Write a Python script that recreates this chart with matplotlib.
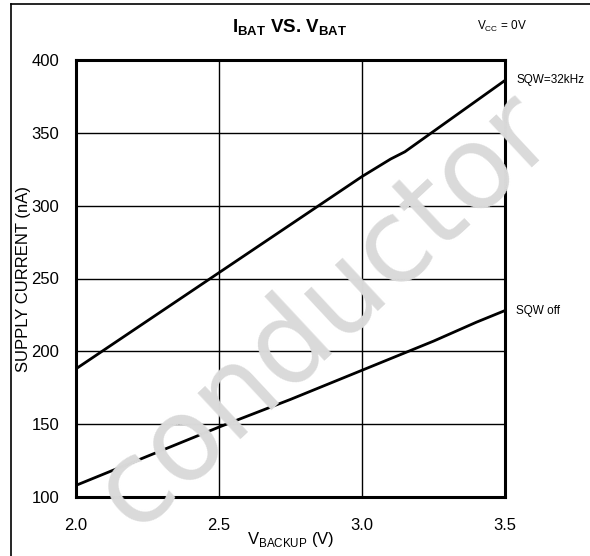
import matplotlib
matplotlib.use("Agg")
import matplotlib.pyplot as plt
from matplotlib.lines import Line2D

plt.rcParams['font.family'] = ['Liberation Sans Narrow', 'Liberation Sans', 'DejaVu Sans']

# data
v_backup = [2.0, 2.25, 2.5, 2.75, 3.0, 3.1, 3.15, 3.25, 3.4, 3.5]
sqw_32k = [188, 221, 254, 287, 320, 332, 337, 351, 372, 386]
sqw_off = [108, 128, 148, 167, 187, 195, 199, 207, 220, 228]

x_ticks = [2.0, 2.5, 3.0, 3.5]
y_ticks = [100, 150, 200, 250, 300, 350, 400]

fig = plt.figure(figsize=(5.9, 5.56), dpi=100)
fig.patch.set_facecolor('white')

# frame lines on the left and top edge of the page
fig.add_artist(Line2D([11/590, 11/590], [0, 1 - 4/556], color='black', lw=1.2))
fig.add_artist(Line2D([11/590, 1], [1 - 4/556, 1 - 4/556], color='black', lw=1.2))

# watermark
fig.text(0.55, 0.44, 'conductor', rotation=43, fontsize=83, color='#dadada',
         ha='center', va='center', family='DejaVu Sans', zorder=0)

ax = fig.add_axes([76/590, 1 - 497/556, 429/590, 437/556])
ax.patch.set_alpha(0)

ax.plot(v_backup, sqw_32k, color='black', lw=2)
ax.plot(v_backup, sqw_off, color='black', lw=2)

ax.set_xlim(2.0, 3.5)
ax.set_ylim(100, 400)
ax.set_xticks(x_ticks)
ax.set_yticks(y_ticks)
ax.set_xticklabels([f'{t:.1f}' for t in x_ticks])
ax.grid(True, color='black', lw=1)
ax.tick_params(length=0, labelsize=12)
ax.tick_params(axis='y', pad=12)
ax.tick_params(axis='x', pad=15)
for s in ax.spines.values():
    s.set_linewidth(2.2)

ax.set_ylabel('SUPPLY CURRENT (nA)', fontsize=12)
ax.yaxis.set_label_coords(-0.105, 0.5)
ax.set_xlabel(r'V$_{\mathregular{BACKUP}}$ (V)', fontsize=12)
ax.xaxis.set_label_coords(0.5, -0.075)

ax.annotate('SQW=32kHz', (v_backup[-1], sqw_32k[-1]), xytext=(8, 0),
            textcoords='offset points', fontsize=8.5, va='center', annotation_clip=False)
ax.annotate('SQW off', (v_backup[-1], sqw_off[-1]), xytext=(8, 0),
            textcoords='offset points', fontsize=8.5, va='center', annotation_clip=False)

fig.text(0.49, 1 - 28/556, r'I$_{\mathregular{BAT}}$ VS. V$_{\mathregular{BAT}}$',
         fontsize=13.5, ha='center', va='center', fontweight='bold')
fig.text(0.85, 1 - 26/556, r'V$_{\mathregular{CC}}$ = 0V', fontsize=8.5,
         ha='center', va='center')

fig.savefig('out.png', dpi=100)
